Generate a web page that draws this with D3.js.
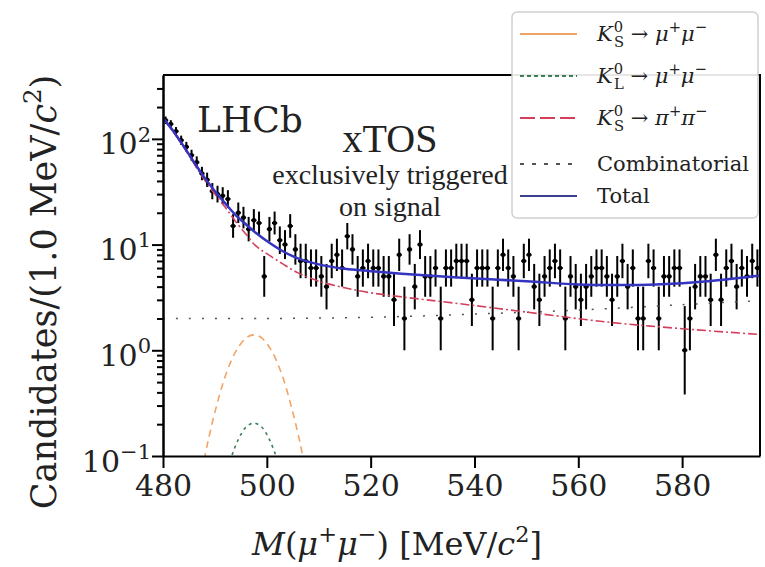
<!DOCTYPE html>
<html lang="en">
  <head>
    <meta charset="utf-8">
    <title>K0 -> mu mu, xTOS</title>
    <script src="https://d3js.org/d3.v7.min.js"></script>
    <style>
      body { margin: 0; background: #fff; }
      text { font-family: 'DejaVu Serif', serif; fill: #222; }
    </style>
  </head>
  <body>
    <script>
// candidates per 1 MeV bin, 480-595 MeV
const counts = [
  150, 138, 118, 97, 84, 70, 60, 47, 41, 32,
  30, 29, 27, 15, 20, 18, 14, 17, 16, 5,
  14, 16, 11, 10, 15, 9, 7, 7, 6, 6,
  5, 4, 7, 8, 6, 12, 9, 5, 6, 7,
  6, 6, 5, 5, 3, 8, 2, 9, 4, 10,
  5, 5, 6, 2, 6, 6, 7, 7, 7, 3,
  6, 6, 6, 2, 6, 8, 6, 5, 2, 7,
  8, 4, 3, 5, 6, 7, 6, 2, 5, 4,
  3, 4, 5, 6, 6, 5, 3, 5, 7, 4,
  6, 2, 2, 7, 6, 2, 5, 5, 6, 6,
  1, 2, 4, 5, 5, 3, 8, 3, 6, 7,
  4, 6, 5, 7, 6
]
const binStart = 480
const binWidth = 1

// fit components
const totalMass = [480, 482, 484, 486, 488, 490, 492, 494, 496, 498, 500, 503, 506, 510, 515, 520, 526, 536, 550, 560, 567, 575, 585, 595]
const totalVal = [158, 118, 85, 60, 43, 32, 24.5, 19, 15.5, 12.8, 10.8, 8.7, 7.4, 6.5, 5.9, 5.6, 5.3, 4.9, 4.5, 4.2, 4.15, 4.2, 4.5, 5.1]

const pipiMass = [480, 482, 484, 486, 488, 490, 492, 494, 496, 498, 500, 503, 506, 510, 515, 520, 526, 536, 550, 566, 580, 595]
const pipiVal = [156, 116, 83, 58, 41, 30, 22.5, 16.5, 12.5, 9.6, 8.2, 6.6, 5.4, 4.5, 3.9, 3.5, 3.2, 2.8, 2.3, 1.84, 1.6, 1.41]

const combMass = [480, 500, 520, 540, 560, 580, 595]
const combVal = [2.0, 2.0, 2.05, 2.2, 2.4, 2.7, 2.95]

const ksMass = [487.5, 488.5, 490, 492, 494, 496, 497.5, 499, 501, 503, 505, 506.5, 507.5]
const ksVal = [0.071, 0.126, 0.26, 0.57, 0.97, 1.31, 1.4, 1.31, 0.97, 0.57, 0.26, 0.126, 0.071]

const klMass = [491.5, 493, 494.5, 496, 497.5, 499, 500.5, 502, 503.5]
const klVal = [0.049, 0.092, 0.143, 0.188, 0.205, 0.188, 0.143, 0.092, 0.049]

const xTicks = [480, 500, 520, 540, 560, 580]
const yMajor = [0.1, 1, 10, 100]
const yMajorExp = ['\u22121', '0', '1', '2']
const yMinor = [0.2, 0.3, 0.4, 0.5, 0.6, 0.7, 0.8, 0.9, 2, 3, 4, 5, 6, 7, 8, 9,
  20, 30, 40, 50, 60, 70, 80, 90, 200, 300]

const legendNames = [
  [{t: 'K', it: 1}, {t: '0', sup: 1, dx: 1}, {t: 'S', sub: 1, dx: -9}, {t: ' \u2192 '}, {t: '\u03bc', it: 1}, {t: '+', sup: 1}, {t: '\u03bc', it: 1}, {t: '\u2212', sup: 1}],
  [{t: 'K', it: 1}, {t: '0', sup: 1, dx: 1}, {t: 'L', sub: 1, dx: -9}, {t: ' \u2192 '}, {t: '\u03bc', it: 1}, {t: '+', sup: 1}, {t: '\u03bc', it: 1}, {t: '\u2212', sup: 1}],
  [{t: 'K', it: 1}, {t: '0', sup: 1, dx: 1}, {t: 'S', sub: 1, dx: -9}, {t: ' \u2192 '}, {t: '\u03c0', it: 1}, {t: '+', sup: 1}, {t: '\u03c0', it: 1}, {t: '\u2212', sup: 1}],
  [{t: 'Combinatorial'}],
  [{t: 'Total'}]
]

const W = 765, H = 567
const svg = d3.select('body').append('svg')
  .attr('width', W)
  .attr('height', H)

const x = d3.scaleLinear().domain([480, 595]).range([163, 760])
const y = d3.scaleLog().domain([0.1, 402]).range([456, 75])

// superscript / subscript helper
function rich(textSel, parts, size) {
  let off = 0
  parts.forEach(p => {
    const shift = p.sup ? -0.42 * size : p.sub ? 0.3 * size : 0
    const ts = textSel.append('tspan')
      .attr('dy', shift - off)
      .style('font-size', (p.sup || p.sub ? size * 0.7 : size) + 'px')
      .text(p.t)
    if (p.dx) ts.attr('dx', p.dx)
    if (p.it) ts.style('font-style', 'italic')
    off = shift
  })
}

svg.append('defs').append('clipPath').attr('id', 'plot')
  .append('rect')
  .attr('x', 163).attr('y', 75)
  .attr('width', 597).attr('height', 381)

// data points with Poisson errors
const bins = counts.map((n, i) => ({
  m: binStart + binWidth * (i + 0.5),
  n,
  lo: n + 0.5 - Math.sqrt(n + 0.25),
  hi: n + 0.5 + Math.sqrt(n + 0.25)
}))

const pts = svg.append('g').attr('clip-path', 'url(#plot)')
  .selectAll('g')
  .data(bins)
  .join('g')

pts.append('line')
  .attr('x1', d => x(d.m)).attr('x2', d => x(d.m))
  .attr('y1', d => y(d.lo)).attr('y2', d => y(d.hi))
  .attr('stroke', '#000').attr('stroke-width', 2)
pts.append('line')
  .attr('x1', d => x(d.m - binWidth / 2)).attr('x2', d => x(d.m + binWidth / 2))
  .attr('y1', d => y(d.n)).attr('y2', d => y(d.n))
  .attr('stroke', '#000').attr('stroke-width', 2)
pts.append('circle')
  .attr('cx', d => x(d.m)).attr('cy', d => y(d.n))
  .attr('r', 2.3).attr('fill', '#000')

// fit curves
const curves = [
  {mass: combMass, val: combVal, color: '#555', width: 1.5, dash: '2,11'},
  {mass: pipiMass, val: pipiVal, color: '#d4405c', width: 1.6, dash: '9,3,2,3'},
  {mass: ksMass, val: ksVal, color: '#f0a468', width: 1.6, dash: '7,5'},
  {mass: klMass, val: klVal, color: '#3d7f55', width: 1.6, dash: '3,4'},
  {mass: totalMass, val: totalVal, color: '#3434c0', width: 2.5, dash: null}
]

const line = d3.line()
  .x(d => x(d[0]))
  .y(d => y(d[1]))
  .curve(d3.curveCatmullRom)

svg.append('g').attr('clip-path', 'url(#plot)')
  .selectAll('path')
  .data(curves)
  .join('path')
  .attr('d', c => line(c.mass.map((m, i) => [m, c.val[i]])))
  .attr('fill', 'none')
  .attr('stroke', c => c.color)
  .attr('stroke-width', c => c.width)
  .attr('stroke-dasharray', c => c.dash)

// axes
const xAxis = svg.append('g')
  .attr('transform', 'translate(0,456)')
  .call(d3.axisBottom(x).tickValues(xTicks).tickSize(12).tickSizeOuter(0).tickPadding(7).tickFormat(d3.format('d')))
xAxis.selectAll('text').style('font-size', '30px').attr('fill', '#222')

svg.append('g')
  .attr('transform', 'translate(163,0)')
  .call(d3.axisLeft(y).tickValues(yMinor).tickSize(6).tickSizeOuter(0).tickFormat(''))

const yAxis = svg.append('g')
  .attr('transform', 'translate(163,0)')
  .call(d3.axisLeft(y).tickValues(yMajor).tickSize(11).tickSizeOuter(0).tickFormat(''))

yAxis.selectAll('.tick').each(function (d, i) {
  const t = d3.select(this).append('text')
    .attr('x', -12).attr('y', 15)
    .attr('text-anchor', 'end')
    .attr('fill', '#222')
  rich(t, [{t: '10'}, {t: yMajorExp[i], sup: 1}], 30)
})

svg.selectAll('.domain, .tick line').attr('stroke', '#000').attr('stroke-width', 2)

// frame top and right
svg.append('path')
  .attr('d', 'M163,75H760V456')
  .attr('fill', 'none')
  .attr('stroke', '#000')
  .attr('stroke-width', 2)

// axis titles
const xt = svg.append('text')
  .attr('x', 397).attr('y', 555)
  .attr('text-anchor', 'middle')
rich(xt, [{t: 'M', it: 1}, {t: '('}, {t: '\u03bc', it: 1}, {t: '+', sup: 1}, {t: '\u03bc', it: 1}, {t: '\u2212', sup: 1},
  {t: ') [MeV/'}, {t: 'c', it: 1}, {t: '2', sup: 1}, {t: ']'}], 32)

const yt = svg.append('text')
  .attr('transform', 'translate(56,292) rotate(-90)')
  .attr('text-anchor', 'middle')
rich(yt, [{t: 'Candidates/(1.0 MeV/'}, {t: 'c', it: 1}, {t: '2', sup: 1}, {t: ')'}], 35)

// annotations
svg.append('text')
  .attr('x', 197).attr('y', 132)
  .style('font-size', '36px')
  .attr('fill', '#2b3440')
  .text('LHCb')

const note = svg.append('g')
  .attr('text-anchor', 'middle')
  .style('font-family', "'Liberation Serif', serif")
note.append('text').attr('x', 390).attr('y', 152)
  .style('font-family', "'Liberation Serif', serif").style('font-size', '40px').text('xTOS')
note.append('text').attr('x', 390).attr('y', 184)
  .style('font-family', "'Liberation Serif', serif").style('font-size', '28px').text('exclusively triggered')
note.append('text').attr('x', 390).attr('y', 216)
  .style('font-family', "'Liberation Serif', serif").style('font-size', '28px').text('on signal')

// legend
const legendY = [34, 76, 118, 164, 196]
const legendLine = [
  {color: '#f0a468', dash: null},
  {color: '#3d7f55', dash: '4,3'},
  {color: '#d4405c', dash: '15,5'},
  {color: '#555', dash: '4,8'},
  {color: '#3f3f90', dash: null}
]

const legend = svg.append('g')
legend.append('rect')
  .attr('x', 512).attr('y', 12)
  .attr('width', 246).attr('height', 206)
  .attr('rx', 5)
  .attr('fill', '#fff').attr('fill-opacity', 0.9)
  .attr('stroke', '#d0d0d0').attr('stroke-width', 1.5)

legendNames.forEach((parts, i) => {
  legend.append('line')
    .attr('x1', 520).attr('x2', 577)
    .attr('y1', legendY[i]).attr('y2', legendY[i])
    .attr('stroke', legendLine[i].color)
    .attr('stroke-width', 2)
    .attr('stroke-dasharray', legendLine[i].dash)
  const t = legend.append('text')
    .attr('x', 597).attr('y', legendY[i] + 7)
  rich(t, parts, 21)
})
    </script>
  </body>
</html>
